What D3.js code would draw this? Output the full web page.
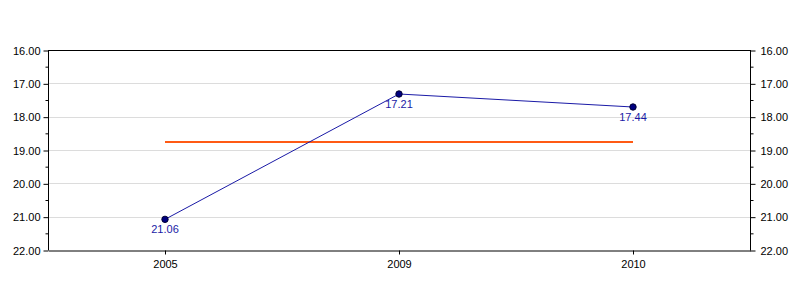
<!DOCTYPE html>
<html>
<head>
<meta charset="utf-8">
<script src="https://cdn.jsdelivr.net/npm/d3@7"></script>
<style>
  body { margin: 0; background: #fff; }
  svg { display: block; font-family: "Liberation Sans", Arial, sans-serif; }
</style>
</head>
<body>
<svg id="chart"></svg>
<script>
const years = ["2005", "2009", "2010"];
const values = [21.08, 17.32, 17.71];
const valueLabels = ["21.06", "17.21", "17.44"];
const average = 18.76;
const yTicks = [16, 17, 18, 19, 20, 21, 22];
const yMinorTicks = [16.5, 17.5, 18.5, 19.5, 20.5, 21.5];

const WIDTH = 800;
const HEIGHT = 300;
const margin = { top: 50, right: 50, bottom: 50, left: 48 };

const svg = d3.select("#chart").attr("width", WIDTH).attr("height", HEIGHT);

const x = d3.scaleBand().domain(years).range([margin.left, WIDTH - margin.right]);
const y = d3.scaleLinear().domain([16, 22]).range([margin.top, HEIGHT - margin.bottom]);
const cx = (d) => x(d) + x.bandwidth() / 2;

// gridlines
svg.append("g")
  .selectAll("line")
  .data(yTicks.slice(1, -1))
  .join("line")
  .attr("x1", margin.left)
  .attr("x2", WIDTH - margin.right)
  .attr("y1", (d) => Math.round(y(d)) + 0.5)
  .attr("y2", (d) => Math.round(y(d)) + 0.5)
  .attr("stroke", "#dcdcdc");

// axes
const fmt = d3.format(".2f");
const left = svg.append("g")
  .attr("transform", `translate(${margin.left + 0.5},0.5)`)
  .call(d3.axisLeft(y).tickValues(yTicks).tickFormat(fmt).tickSize(5).tickPadding(3));
const right = svg.append("g")
  .attr("transform", `translate(${WIDTH - margin.right + 0.5},0.5)`)
  .call(d3.axisRight(y).tickValues(yTicks).tickFormat(fmt).tickSize(5).tickPadding(5));
left.selectAll(".minor")
  .data(yMinorTicks)
  .join("line")
  .attr("class", "minor")
  .attr("x1", -3).attr("x2", 0)
  .attr("y1", (d) => y(d)).attr("y2", (d) => y(d))
  .attr("stroke", "#000");
right.selectAll(".minor")
  .data(yMinorTicks)
  .join("line")
  .attr("class", "minor")
  .attr("x1", 0).attr("x2", 3)
  .attr("y1", (d) => y(d)).attr("y2", (d) => y(d))
  .attr("stroke", "#000");

const bottom = svg.append("g")
  .attr("transform", `translate(0.5,${HEIGHT - margin.bottom + 0.5})`)
  .call(d3.axisBottom(x).tickSize(4).tickSizeOuter(0).tickPadding(6));

svg.append("line")
  .attr("x1", margin.left).attr("x2", WIDTH - margin.right + 1)
  .attr("y1", margin.top + 0.5).attr("y2", margin.top + 0.5)
  .attr("stroke", "#000");

[left, right, bottom].forEach((g) => {
  g.selectAll("text").attr("font-size", 11).attr("font-family", "Liberation Sans, Arial, sans-serif").attr("fill", "#000");
  g.select(".domain").attr("stroke", "#000");
});
left.select(".domain").attr("d", `M0,${y(16)}V${y(22)}`);
right.select(".domain").attr("d", `M0,${y(16)}V${y(22)}`);

// average line
svg.append("line")
  .attr("x1", cx(years[0]))
  .attr("x2", cx(years[years.length - 1]))
  .attr("y1", y(average))
  .attr("y2", y(average))
  .attr("stroke", "#ff5a14")
  .attr("stroke-width", 2);

// series
const pts = years.map((d, i) => ({ year: d, value: values[i], label: valueLabels[i] }));
svg.append("path")
  .datum(pts)
  .attr("fill", "none")
  .attr("stroke", "#1a1aa6")
  .attr("stroke-width", 1)
  .attr("d", d3.line().x((d) => cx(d.year)).y((d) => y(d.value)));

svg.append("g")
  .selectAll("circle")
  .data(pts)
  .join("circle")
  .attr("cx", (d) => cx(d.year))
  .attr("cy", (d) => y(d.value))
  .attr("r", 3.2)
  .attr("fill", "#000080")
  .attr("stroke", "#000033")
  .attr("stroke-width", 1);

svg.append("g")
  .selectAll("text")
  .data(pts)
  .join("text")
  .attr("x", (d) => cx(d.year))
  .attr("y", (d) => y(d.value) + 14)
  .attr("text-anchor", "middle")
  .attr("font-size", 11)
  .attr("fill", "#1a1aa6")
  .text((d) => d.label);
</script>
</body>
</html>
